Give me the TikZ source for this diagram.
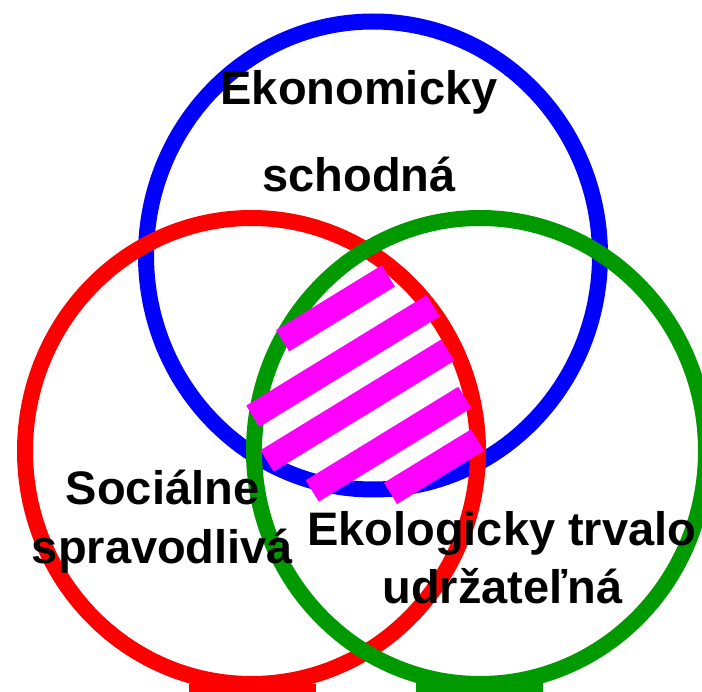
\documentclass[tikz,border=0pt]{standalone}
\usepackage{fontspec}
\setmainfont{Liberation Sans}
\definecolor{venncolor0001}{RGB}{0,0,255}
\definecolor{venncolor0002}{RGB}{255,0,0}
\definecolor{venncolor0003}{RGB}{0,153,0}
\definecolor{venncolor0004}{RGB}{255,0,255}
\begin{document}
\begin{tikzpicture}[yscale=-1
,pstyle0/.style={color=venncolor0001,line width=16pt}
,pstyle1/.style={color=venncolor0002,line width=16pt}
,pstyle2/.style={color=venncolor0003,line width=16pt}
,pstyle3/.style={fill=venncolor0004}
,pstyle4/.style={color=black,inner sep=0,anchor=base,font=\fontsize{47pt}{56pt}\selectfont\bfseries}
]
\useasboundingbox (0pt,0pt) rectangle (702pt,692pt);
\draw[pstyle0] (373pt,255.5pt) ellipse (227pt and 234pt);
\fill[venncolor0002] (189pt,684pt) rectangle (316pt,692pt);
\draw[pstyle1] (251.5pt,451pt) ellipse (226.5pt and 233pt);
\fill[venncolor0003] (416pt,682pt) rectangle (543pt,692pt);
\draw[pstyle2] (480pt,451pt) ellipse (226pt and 233pt);
\fill[pstyle3,shift={(335.5pt,308.3pt)},rotate=-31.5] (-62pt,-12.5pt) rectangle (62pt,12.5pt);
\fill[pstyle3,shift={(343pt,361pt)},rotate=-31.5] (-105.8pt,-12.5pt) rectangle (105.8pt,12.5pt);
\fill[pstyle3,shift={(357.4pt,405.5pt)},rotate=-31.5] (-106pt,-12.5pt) rectangle (106pt,12.5pt);
\fill[pstyle3,shift={(388.5pt,444.2pt)},rotate=-31.5] (-89.5pt,-12.5pt) rectangle (89.5pt,12.5pt);
\fill[pstyle3,shift={(434pt,466.7pt)},rotate=-31.5] (-51pt,-12.5pt) rectangle (51pt,12.5pt);
\node (eko1) at (359pt,105pt)[pstyle4]{Ekonomicky};
\node (eko2) at (359pt,191.5pt)[pstyle4]{schodná};
\node (soc1) at (162.5pt,505pt)[pstyle4]{Sociálne};
\node (soc2) at (162.5pt,563pt)[pstyle4]{spravodlivá};
\node (env1) at (501.7pt,545pt)[pstyle4]{Ekologicky trvalo};
\node (env2) at (502.5pt,603pt)[pstyle4]{udržateľná};
\end{tikzpicture}
\end{document}
